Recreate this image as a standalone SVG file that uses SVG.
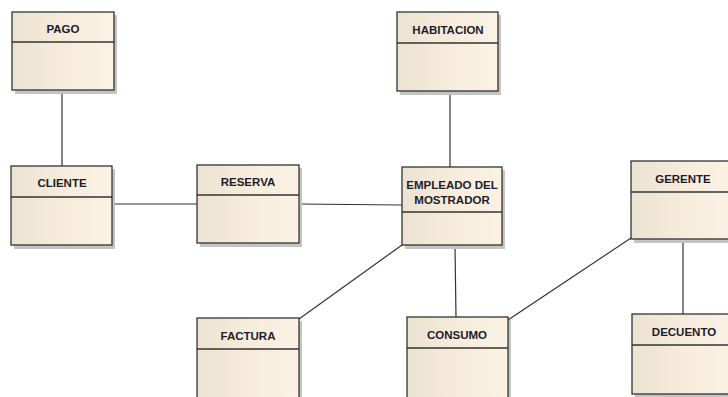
<svg xmlns="http://www.w3.org/2000/svg" width="728" height="397" viewBox="0 0 728 397">
<defs>
<linearGradient id="g" x1="0" y1="0" x2="1" y2="0">
<stop offset="0" stop-color="#ece2d2"/>
<stop offset="0.5" stop-color="#f7ecdc"/>
<stop offset="1" stop-color="#fbf2e4"/>
</linearGradient>
</defs>
<style>
.sh{fill:#c4c4c4}
.bx{fill:url(#g);stroke:#333;stroke-width:1.3}
.dv{stroke:#333;stroke-width:1.3}
.t{font-family:"Liberation Sans",Arial,sans-serif;font-weight:bold;font-size:11.5px;fill:#1c1c2c;text-anchor:middle}
.c{stroke:#333;stroke-width:1.2;fill:none}
</style>
<rect width="728" height="397" fill="#ffffff"/>
<g id="connectors">
<line class="c" x1="62" y1="90" x2="62" y2="166"/>
<line class="c" x1="450" y1="91" x2="450" y2="167"/>
<line class="c" x1="112" y1="204" x2="197" y2="204"/>
<line class="c" x1="299" y1="204" x2="402" y2="205"/>
<line class="c" x1="402" y1="245" x2="299" y2="319"/>
<line class="c" x1="455" y1="245" x2="456" y2="317"/>
<line class="c" x1="631" y1="238" x2="508" y2="320"/>
<line class="c" x1="683" y1="239" x2="683" y2="314"/>
</g>
<g id="pago">
<rect class="sh" x="15" y="15" width="102" height="79"/>
<rect class="bx" x="12" y="12" width="102" height="78"/>
<line class="dv" x1="12" y1="42" x2="114" y2="42"/>
<text class="t" x="63" y="33">PAGO</text>
</g>
<g id="habitacion">
<rect class="sh" x="400" y="15" width="101" height="80"/>
<rect class="bx" x="397" y="12" width="101" height="79"/>
<line class="dv" x1="397" y1="43" x2="498" y2="43"/>
<text class="t" x="448" y="34">HABITACION</text>
</g>
<g id="cliente">
<rect class="sh" x="14" y="169" width="101" height="80"/>
<rect class="bx" x="11" y="166" width="101" height="79"/>
<line class="dv" x1="11" y1="197" x2="112" y2="197"/>
<text class="t" x="62" y="187">CLIENTE</text>
</g>
<g id="reserva">
<rect class="sh" x="200" y="168" width="102" height="79"/>
<rect class="bx" x="197" y="165" width="102" height="78"/>
<line class="dv" x1="197" y1="195" x2="299" y2="195"/>
<text class="t" x="248" y="186">RESERVA</text>
</g>
<g id="empleado">
<rect class="sh" x="405" y="170" width="100" height="79"/>
<rect class="bx" x="402" y="167" width="100" height="78"/>
<line class="dv" x1="402" y1="212" x2="502" y2="212"/>
<text class="t" x="452" y="189">EMPLEADO DEL</text>
<text class="t" x="452" y="204">MOSTRADOR</text>
</g>
<g id="gerente">
<rect class="sh" x="634" y="164" width="104" height="79"/>
<rect class="bx" x="631" y="161" width="104" height="78"/>
<line class="dv" x1="631" y1="192" x2="735" y2="192"/>
<text class="t" x="683" y="183">GERENTE</text>
</g>
<g id="factura">
<rect class="sh" x="200" y="321" width="102" height="80"/>
<rect class="bx" x="197" y="318" width="102" height="85"/>
<line class="dv" x1="197" y1="349" x2="299" y2="349"/>
<text class="t" x="248" y="340">FACTURA</text>
</g>
<g id="consumo">
<rect class="sh" x="410" y="320" width="101" height="80"/>
<rect class="bx" x="407" y="317" width="101" height="85"/>
<line class="dv" x1="407" y1="348" x2="508" y2="348"/>
<text class="t" x="457" y="339">CONSUMO</text>
</g>
<g id="decuento">
<rect class="sh" x="635" y="317" width="104" height="80"/>
<rect class="bx" x="632" y="314" width="104" height="80"/>
<line class="dv" x1="632" y1="345" x2="736" y2="345"/>
<text class="t" x="684" y="336">DECUENTO</text>
</g>
</svg>
